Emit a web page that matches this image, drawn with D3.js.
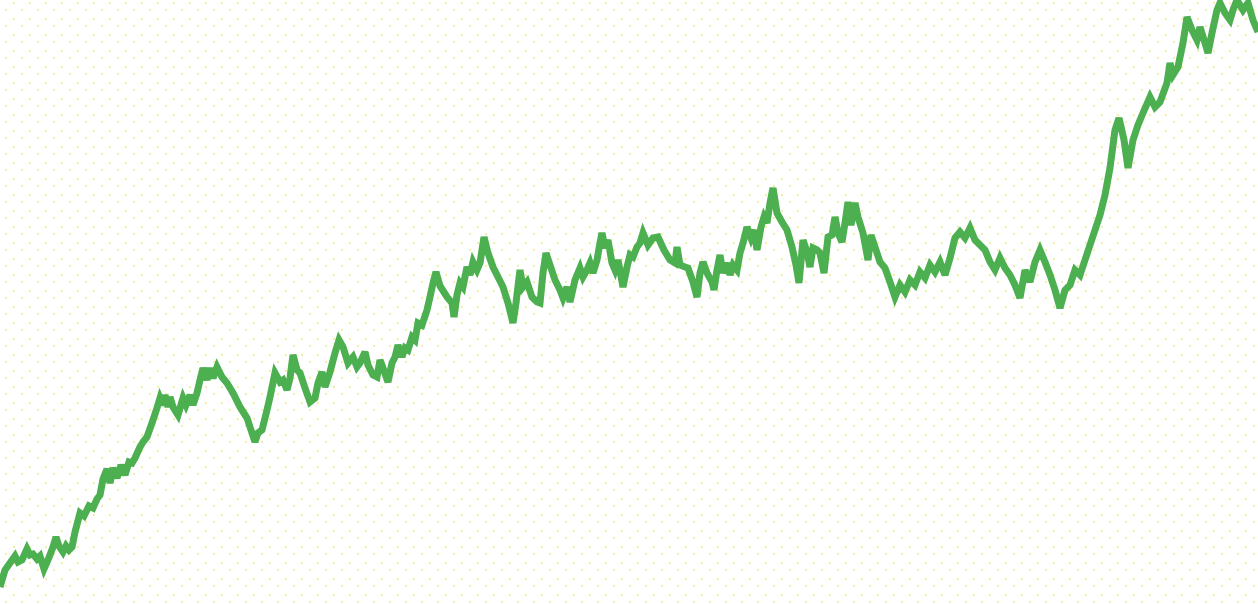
<!DOCTYPE html>
<html>
<head>
<meta charset="utf-8">
<script src="https://cdn.jsdelivr.net/npm/d3@7"></script>
<style>
  html, body { margin: 0; padding: 0; background: #ffffff; overflow: hidden; }
  svg { display: block; }
</style>
</head>
<body>
<svg id="chart" width="1258" height="604"></svg>
<script>
const steps = [0,5,10,15,18,22,27,30,33,37,40,44,48,53,56,59,63,66,69,72,75,80,84,89,93,97,100,103,107,110,113,117,121,125,129,132,135,140,143,147,152,157,160,163,165,168,170,173,178,183,186,190,193,197,200,203,207,210,213,217,222,227,233,240,247,252,255,258,262,267,270,275,280,283,287,290,293,297,300,305,310,315,318,322,325,330,335,339,343,348,353,357,360,365,368,373,377,380,383,388,392,395,398,402,405,408,412,415,418,422,427,430,433,436,440,447,452,454,457,460,463,467,470,473,477,480,484,488,493,498,503,508,513,516,520,523,527,532,537,540,543,546,550,555,560,563,567,570,575,580,583,587,590,593,597,600,602,605,608,612,615,618,623,627,630,633,637,640,643,648,653,658,664,670,675,677,680,685,688,693,697,700,703,707,712,714,717,720,723,727,730,733,737,740,743,747,751,754,757,761,764,767,770,773,777,782,787,792,796,799,803,807,810,813,817,820,824,828,832,835,838,842,845,848,851,855,858,863,868,871,875,880,885,890,895,900,905,910,915,920,925,930,935,940,945,950,955,960,965,970,975,980,985,990,995,1000,1005,1010,1015,1020,1025,1030,1035,1040,1045,1050,1055,1060,1065,1070,1075,1080,1085,1090,1095,1100,1105,1110,1115,1119,1124,1128,1133,1138,1143,1150,1155,1160,1167,1170,1173,1178,1183,1187,1192,1197,1200,1205,1208,1212,1217,1220,1225,1230,1233,1237,1243,1248,1253,1258];

const values = [13,30,37,44,38,40,51,45,46,41,44,31,40,53,63,54,48,54,50,53,68,87,84,94,92,101,105,121,131,117,132,122,135,125,138,137,142,153,158,163,177,192,202,195,205,193,203,193,185,202,195,205,195,207,220,232,220,232,222,233,223,217,207,193,182,167,158,167,170,190,203,227,218,220,210,222,245,230,227,212,198,202,217,228,213,228,247,260,253,237,243,233,237,248,235,225,223,240,232,218,237,243,255,243,252,250,263,260,277,275,290,303,317,328,314,303,297,283,305,317,313,333,325,338,330,337,363,347,333,323,313,297,277,297,330,313,318,303,298,297,327,347,335,320,310,302,313,298,320,332,323,330,337,327,340,357,367,352,360,337,330,340,313,333,345,343,353,357,367,355,362,363,350,340,337,353,335,333,332,318,303,327,338,327,318,310,330,345,327,337,325,335,330,347,357,373,362,370,350,373,383,377,397,412,387,378,370,353,335,317,360,348,333,352,350,347,327,363,365,383,367,358,377,398,375,397,383,367,340,365,353,338,332,318,303,315,308,320,315,328,322,335,328,338,325,342,362,368,362,372,360,355,350,338,330,342,332,325,315,302,330,318,338,350,338,325,310,292,310,315,330,325,340,355,370,385,405,432,470,482,460,432,460,475,487,503,493,498,517,537,525,533,557,583,570,560,573,557,547,567,590,597,587,580,590,600,590,597,580,568];

const W = 1258, H = 604;
const svg = d3.select("#chart");

// dotted background pattern
const defs = svg.append("defs");
const pat = defs.append("pattern")
  .attr("id", "dots")
  .attr("patternUnits", "userSpaceOnUse")
  .attr("width", 16).attr("height", 16);
pat.append("rect").attr("x", 13).attr("y", 2).attr("width", 2).attr("height", 2).attr("fill", "#f1f1a6");
pat.append("rect").attr("x", 5).attr("y", 9).attr("width", 2).attr("height", 2).attr("fill", "#f1f1a6");

svg.append("rect").attr("width", W).attr("height", H).attr("fill", "#ffffff");
svg.append("rect").attr("width", W).attr("height", H).attr("fill", "url(#dots)");

const x = d3.scaleLinear().domain([0, 1258]).range([0, W]);
const y = d3.scaleLinear().domain([0, 600]).range([600, 0]);

const data = steps.map((s, i) => ({ s, v: values[i] }));

const line = d3.line()
  .x(d => x(d.s))
  .y(d => y(d.v));

svg.append("path")
  .datum(data)
  .attr("fill", "none")
  .attr("stroke", "#4caf50")
  .attr("stroke-width", 7)
  .attr("stroke-linejoin", "miter")
  .attr("stroke-miterlimit", 3)
  .attr("d", line);
</script>
</body>
</html>
